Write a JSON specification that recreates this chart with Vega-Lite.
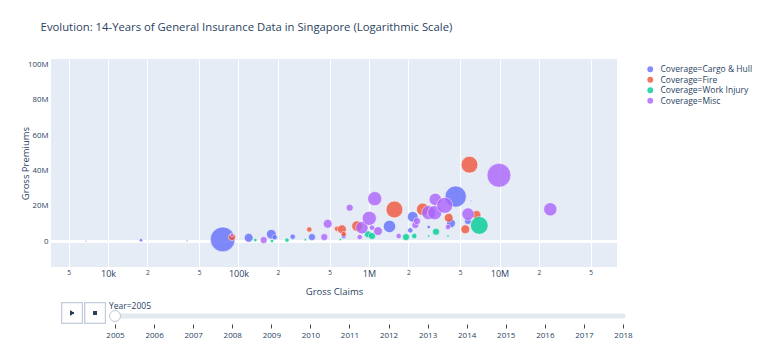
{
  "$schema": "https://vega.github.io/schema/vega-lite/v6.json",
  "background": "white",
  "padding": {"left": 20, "top": 21, "right": 5, "bottom": 3},
  "config": {"font": "Open Sans", "view": {"stroke": null}},
  "title": {"text": "Evolution: 14-Years of General Insurance Data in Singapore (Logarithmic Scale)", "anchor": "start", "frame": "bounds", "dx": 20, "fontSize": 11.3, "fontWeight": "normal", "color": "#2a3f5f", "offset": 26},
  "spacing": 4,
  "vconcat": [
    {
      "width": 566,
      "height": 208,
      "view": {"fill": "#E5ECF6", "stroke": null},
      "data": {"values": [
        {"coverage": "Cargo & Hull", "claims": 17900, "premiums": 570000, "size": 4},
        {"coverage": "Cargo & Hull", "claims": 40300, "premiums": 200000, "size": 1},
        {"coverage": "Cargo & Hull", "claims": 75700, "premiums": 1100000, "size": 196},
        {"coverage": "Cargo & Hull", "claims": 119700, "premiums": 2000000, "size": 25},
        {"coverage": "Cargo & Hull", "claims": 178400, "premiums": 4000000, "size": 30},
        {"coverage": "Cargo & Hull", "claims": 189400, "premiums": 2300000, "size": 9},
        {"coverage": "Cargo & Hull", "claims": 260200, "premiums": 2600000, "size": 9},
        {"coverage": "Cargo & Hull", "claims": 365600, "premiums": 2400000, "size": 16},
        {"coverage": "Cargo & Hull", "claims": 639700, "premiums": 3000000, "size": 9},
        {"coverage": "Cargo & Hull", "claims": 1436000, "premiums": 8400000, "size": 49},
        {"coverage": "Cargo & Hull", "claims": 2163000, "premiums": 13900000, "size": 36},
        {"coverage": "Cargo & Hull", "claims": 2072000, "premiums": 6200000, "size": 9},
        {"coverage": "Cargo & Hull", "claims": 4617000, "premiums": 25300000, "size": 144},
        {"coverage": "Cargo & Hull", "claims": 4249000, "premiums": 10200000, "size": 25},
        {"coverage": "Cargo & Hull", "claims": 2868000, "premiums": 8100000, "size": 4},
        {"coverage": "Cargo & Hull", "claims": 5735000, "premiums": 11500000, "size": 16},
        {"coverage": "Fire", "claims": 89200, "premiums": 2400000, "size": 16},
        {"coverage": "Fire", "claims": 348700, "premiums": 6700000, "size": 9},
        {"coverage": "Fire", "claims": 568500, "premiums": 7100000, "size": 9},
        {"coverage": "Fire", "claims": 620800, "premiums": 6800000, "size": 25},
        {"coverage": "Fire", "claims": 639700, "premiums": 4100000, "size": 9},
        {"coverage": "Fire", "claims": 809100, "premiums": 8600000, "size": 36},
        {"coverage": "Fire", "claims": 1567000, "premiums": 18000000, "size": 90},
        {"coverage": "Fire", "claims": 2579000, "premiums": 18100000, "size": 49},
        {"coverage": "Fire", "claims": 4081000, "premiums": 13300000, "size": 25},
        {"coverage": "Fire", "claims": 6665000, "premiums": 14900000, "size": 25},
        {"coverage": "Fire", "claims": 5470000, "premiums": 6800000, "size": 25},
        {"coverage": "Fire", "claims": 5888000, "premiums": 43300000, "size": 90},
        {"coverage": "Work Injury", "claims": 134500, "premiums": 700000, "size": 4},
        {"coverage": "Work Injury", "claims": 180600, "premiums": 200000, "size": 4},
        {"coverage": "Work Injury", "claims": 235400, "premiums": 700000, "size": 6},
        {"coverage": "Work Injury", "claims": 325100, "premiums": 900000, "size": 2},
        {"coverage": "Work Injury", "claims": 602600, "premiums": 1100000, "size": 2},
        {"coverage": "Work Injury", "claims": 982000, "premiums": 4000000, "size": 16},
        {"coverage": "Work Injury", "claims": 1055000, "premiums": 3000000, "size": 16},
        {"coverage": "Work Injury", "claims": 1921000, "premiums": 2400000, "size": 16},
        {"coverage": "Work Injury", "claims": 2224000, "premiums": 3000000, "size": 9},
        {"coverage": "Work Injury", "claims": 3262000, "premiums": 5400000, "size": 16},
        {"coverage": "Work Injury", "claims": 2868000, "premiums": 3000000, "size": 2},
        {"coverage": "Work Injury", "claims": 4030000, "premiums": 3000000, "size": 2},
        {"coverage": "Work Injury", "claims": 7000000, "premiums": 9000000, "size": 100},
        {"coverage": "Misc", "claims": 6780, "premiums": 100000, "size": 1},
        {"coverage": "Misc", "claims": 89200, "premiums": 3600000, "size": 4},
        {"coverage": "Misc", "claims": 156000, "premiums": 700000, "size": 16},
        {"coverage": "Misc", "claims": 454300, "premiums": 2400000, "size": 16},
        {"coverage": "Misc", "claims": 482600, "premiums": 9900000, "size": 25},
        {"coverage": "Misc", "claims": 711300, "premiums": 19000000, "size": 16},
        {"coverage": "Misc", "claims": 848700, "premiums": 2400000, "size": 9},
        {"coverage": "Misc", "claims": 883100, "premiums": 7700000, "size": 49},
        {"coverage": "Misc", "claims": 1005000, "premiums": 13000000, "size": 64},
        {"coverage": "Misc", "claims": 1106000, "premiums": 24100000, "size": 64},
        {"coverage": "Misc", "claims": 1172000, "premiums": 5800000, "size": 25},
        {"coverage": "Misc", "claims": 1055000, "premiums": 7700000, "size": 9},
        {"coverage": "Misc", "claims": 1689000, "premiums": 3000000, "size": 9},
        {"coverage": "Misc", "claims": 2264000, "premiums": 9200000, "size": 16},
        {"coverage": "Misc", "claims": 2333000, "premiums": 11500000, "size": 16},
        {"coverage": "Misc", "claims": 2868000, "premiums": 16200000, "size": 64},
        {"coverage": "Misc", "claims": 3187000, "premiums": 16200000, "size": 64},
        {"coverage": "Misc", "claims": 3222000, "premiums": 23700000, "size": 49},
        {"coverage": "Misc", "claims": 3802000, "premiums": 20300000, "size": 81},
        {"coverage": "Misc", "claims": 4030000, "premiums": 8100000, "size": 9},
        {"coverage": "Misc", "claims": 6047000, "premiums": 22800000, "size": 1},
        {"coverage": "Misc", "claims": 5735000, "premiums": 15400000, "size": 49},
        {"coverage": "Misc", "claims": 9910000, "premiums": 37300000, "size": 182},
        {"coverage": "Misc", "claims": 24500000, "premiums": 18100000, "size": 56}
      ]},
      "layer": [
        {
          "mark": {"type": "rule", "color": "white", "strokeWidth": 2},
          "encoding": {"y": {"datum": 0, "type": "quantitative"}}
        },
        {
          "mark": {"type": "circle", "opacity": 0.8, "stroke": "white", "strokeWidth": 0.6},
          "encoding": {
            "x": {
              "field": "claims", "type": "quantitative", "title": "Gross Claims",
              "scale": {"type": "log", "domain": [3658, 79500000], "nice": false},
              "axis": {
                "values": [5000, 10000, 20000, 50000, 100000, 200000, 500000, 1000000, 2000000, 5000000, 10000000, 20000000, 50000000],
                "labelExpr": "datum.value == 10000 ? '10k' : datum.value == 100000 ? '100k' : datum.value == 1000000 ? '1M' : datum.value == 10000000 ? '10M' : '' + round(datum.value / pow(10, floor(log(datum.value) / LN10 + 0.000001)))",
                "labelFontSize": {"condition": {"test": "datum.value == 10000 || datum.value == 100000 || datum.value == 1000000 || datum.value == 10000000", "value": 9}, "value": 6.5},
                "labelColor": "#2a3f5f", "labelPadding": 2, "labelFlush": false,
                "ticks": false, "domain": false, "gridColor": "white", "gridWidth": 1, "gridOpacity": 1,
                "titleColor": "#2a3f5f", "titleFontSize": 9.5, "titleFontWeight": "normal", "titlePadding": 8
              }
            },
            "y": {
              "field": "premiums", "type": "quantitative", "title": "Gross Premiums",
              "scale": {"domain": [-14500000, 103000000], "nice": false, "zero": false},
              "axis": {
                "values": [0, 20000000, 40000000, 60000000, 80000000, 100000000],
                "labelExpr": "datum.value == 0 ? '0' : (datum.value / 1000000) + 'M'",
                "labelFontSize": 7.8, "labelColor": "#2a3f5f", "labelPadding": 3,
                "ticks": false, "domain": false, "gridColor": "white", "gridWidth": 1, "gridOpacity": 1,
                "titleColor": "#2a3f5f", "titleFontSize": 9.5, "titleFontWeight": "normal", "titlePadding": -3
              }
            },
            "size": {"field": "size", "type": "quantitative", "scale": {"domain": [0, 196], "range": [0, 616]}, "legend": null},
            "color": {
              "field": "coverage", "type": "nominal",
              "scale": {"domain": ["Cargo & Hull", "Fire", "Work Injury", "Misc"], "range": ["#636efa", "#EF553B", "#00cc96", "#ab63fa"]},
              "legend": {
                "title": null, "orient": "right", "offset": 7, "padding": 6,
                "labelExpr": "'Coverage=' + datum.label",
                "labelFontSize": 8.5, "labelColor": "#2a3f5f", "symbolType": "circle", "symbolSize": 34,
                "symbolStrokeWidth": 0, "symbolOpacity": 0.8, "rowPadding": 1.5, "labelOffset": 6
              }
            }
          }
        }
      ]
    },
    {
      "width": 580,
      "height": 28,
      "title": {"text": "Year=2005", "anchor": "start", "frame": "group", "dx": 58, "dy": 10, "offset": 0, "fontSize": 8.5, "fontWeight": "normal", "color": "#2a3f5f"},
      "data": {"values": [
        {"year": 2005}, {"year": 2006}, {"year": 2007}, {"year": 2008}, {"year": 2009}, {"year": 2010}, {"year": 2011},
        {"year": 2012}, {"year": 2013}, {"year": 2014}, {"year": 2015}, {"year": 2016}, {"year": 2017}, {"year": 2018}
      ]},
      "layer": [
        {
          "mark": {"type": "rule", "strokeWidth": 5, "strokeCap": "round", "color": "#e4e9f0"},
          "encoding": {
            "x": {
              "aggregate": "min", "field": "year", "type": "quantitative", "title": null,
              "scale": {"domain": [2003.362, 2018.205], "nice": false, "zero": false},
              "axis": {
                "values": [2005, 2006, 2007, 2008, 2009, 2010, 2011, 2012, 2013, 2014, 2015, 2016, 2017, 2018],
                "format": "d", "domain": false, "grid": false, "ticks": true, "tickSize": 4, "tickColor": "#444", "offset": -6,
                "labelFontSize": 8, "labelColor": "#2a3f5f", "labelPadding": 3, "labelFlush": false
              }
            },
            "x2": {"aggregate": "max", "field": "year"}
          }
        },
        {
          "transform": [{"filter": "datum.year == 2005"}],
          "mark": {"type": "circle", "fill": "white", "stroke": "#bec8d9", "strokeWidth": 1, "opacity": 1, "size": 120},
          "encoding": {"x": {"field": "year", "type": "quantitative"}}
        },
        {
          "mark": {"type": "point", "shape": "square", "size": 420, "filled": true, "fill": "white", "stroke": "#bec8d9", "strokeWidth": 1, "opacity": 1, "yOffset": -3},
          "encoding": {"x": {"datum": 2003.9, "type": "quantitative"}}
        },
        {
          "mark": {"type": "point", "shape": "square", "size": 420, "filled": true, "fill": "white", "stroke": "#bec8d9", "strokeWidth": 1, "opacity": 1, "yOffset": -3},
          "encoding": {"x": {"datum": 2004.49, "type": "quantitative"}}
        },
        {
          "mark": {"type": "point", "shape": "triangle-right", "size": 22, "filled": true, "color": "#2a3f5f", "opacity": 1, "yOffset": -3},
          "encoding": {"x": {"datum": 2003.9, "type": "quantitative"}}
        },
        {
          "mark": {"type": "point", "shape": "square", "size": 14, "filled": true, "color": "#2a3f5f", "opacity": 1, "yOffset": -3},
          "encoding": {"x": {"datum": 2004.49, "type": "quantitative"}}
        }
      ]
    }
  ]
}
